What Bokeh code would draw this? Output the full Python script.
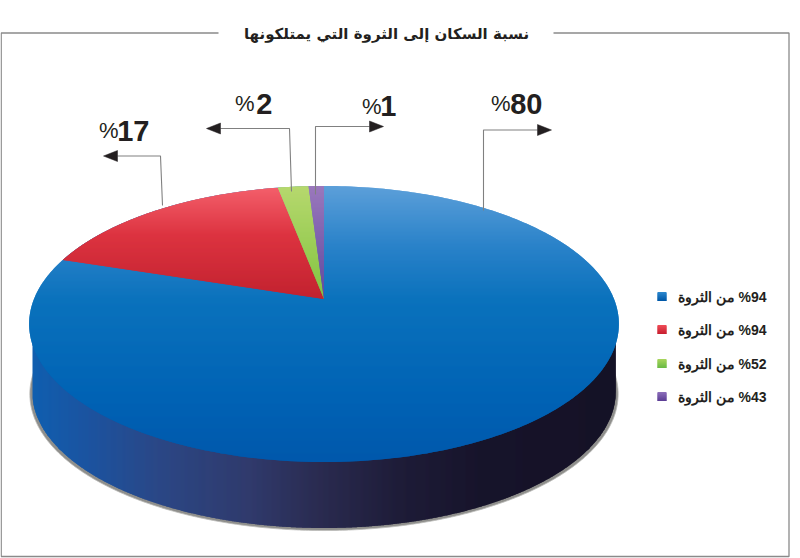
import math
import numpy as np
from bokeh.plotting import figure
from bokeh.models import Range1d
from bokeh.core.properties import value
from bokeh.embed import file_html
from bokeh.resources import INLINE

# ---- data ----
title_text = "نسبة السكان إلى الثروة التي يمتلكونها"
shares = [80, 17, 2, 1]
share_labels = ["80", "17", "2", "1"]
legend_numbers = ["94", "94", "52", "43"]
legend_suffix = " من الثروة"

# ---- styling / layout ----
W, H = 800, 558
top_ramps = [
    [(186, "#5c9fd9"), (245, "#2a82c9"), (300, "#0a72bc"), (400, "#0062b4"), (462, "#0058ab")],
    [(186, "#f4606c"), (235, "#dc3340"), (298, "#c2222f")],
    [(186, "#b6d86e"), (298, "#82c341")],
    [(186, "#9a78bc"), (298, "#5f4a9f")],
]
side_ramp = [(30, "#0f5fb0"), (90, "#1c539f"), (160, "#2b4785"), (250, "#303a6c"),
             (320, "#2a2b50"), (400, "#1e1c38"), (480, "#17142b"), (620, "#151226")]
legend_ramps = [("#2a86cc", "#0058a8"), ("#ee4a55", "#c82030"),
                ("#a6d45c", "#6cbb45"), ("#8a6cb8", "#5d3f96")]
label_font = "Liberation Sans"
arabic_font = "DejaVu Sans"
ink = "#231f20"
rule = "#8a8a8a"
leader = "#808080"

CX, CY = 323.5, 298.5
K, A, B = 0.181, 133.5, 290.0
DEPTH = 68.0
OVERLAP = 2.0


def hex2rgb(h):
    return tuple(int(h[i:i + 2], 16) for i in (1, 3, 5))


def ramp(stops, t):
    if t <= stops[0][0]:
        return stops[0][1]
    for (a, ca), (b, cb) in zip(stops, stops[1:]):
        if t <= b:
            f = (t - a) / (b - a)
            ra, rb = hex2rgb(ca), hex2rgb(cb)
            return "#%02x%02x%02x" % tuple(round(x + (y - x) * f) for x, y in zip(ra, rb))
    return stops[-1][1]


def project(theta, r=1.0):
    u, v = r * math.sin(theta), r * math.cos(theta)
    w = 1 + K * v
    return CX + B * u / w, CY - A * v / w


def clip_band(poly, y0, y1):
    def clip(pts, inside, cross):
        out = []
        for i, p in enumerate(pts):
            q = pts[(i + 1) % len(pts)]
            if inside(p):
                out.append(p)
            if inside(p) != inside(q):
                out.append(cross(p, q))
        return out

    def at(y):
        return lambda p, q: (p[0] + (q[0] - p[0]) * (y - p[1]) / (q[1] - p[1]), y)

    res = clip(poly, lambda p: p[1] >= y0, at(y0))
    if res:
        res = clip(res, lambda p: p[1] <= y1, at(y1))
    return res


p = figure(width=W, height=H, x_range=Range1d(0, W), y_range=Range1d(H, 0),
           output_backend="svg", toolbar_location=None, min_border=0,
           outline_line_color=None, background_fill_color="white",
           border_fill_color="white")
p.axis.visible = False
p.grid.visible = False

# frame
p.multi_line(xs=[[218, 0.7, 0.7, 788.5, 788.5, 553]], ys=[[32.5, 32.5, 556, 556, 32.5, 32.5]],
             line_color=rule, line_width=1.3)


# ---- extruded side, built from the circle ----
def lower_curve(scale=1.0):
    return [project(math.pi / 2 + math.pi * i / 360, scale) for i in range(-60, 421)]


outer = [(x, y + DEPTH) for x, y in lower_curve(0.99)]
shadow = [(CX + (x - CX) * 1.008, y + 2.5) for x, y in outer]
p.patch([q[0] for q in shadow], [q[1] for q in shadow], fill_color="#8f8f8c", fill_alpha=1.0,
        line_color="#bdbdba", line_width=0.8)

# side face in overlapping pixel columns, painted left to right
ox = np.array([q[0] for q in outer])
oy = np.array([q[1] for q in outer])
i_r, i_l = int(np.argmax(ox)), int(np.argmin(ox))
order = np.argsort(ox[i_r:i_l + 1])
arc_x, arc_y = ox[i_r:i_l + 1][order], oy[i_r:i_l + 1][order]
xs_s, ys_s, cs_s = [], [], []
for x in range(math.ceil(arc_x[0]), math.floor(arc_x[-1])):
    x1 = min(x + OVERLAP, float(arc_x[-1]))
    y0, ym, y1 = np.interp([x, x + 1, x1], arc_x, arc_y)
    xs_s.append([x, x1, x1, x + 1, x])
    ys_s.append([CY + 25, CY + 25, float(y1), float(ym), float(y0)])
    cs_s.append(ramp(side_ramp, x + 0.5))
p.patches(xs_s, ys_s, fill_color=cs_s, fill_alpha=1.0, line_color=None)

# ---- top face: gradient bands; largest share as full disc, the others laid over it ----
total = sum(shares)
pxs, pys, pcs = [], [], []


def add_bands(poly, stops):
    lo = math.floor(min(q[1] for q in poly))
    hi = math.ceil(max(q[1] for q in poly))
    for y in range(lo, hi):
        part = clip_band(poly, y, y + OVERLAP)
        if len(part) >= 3:
            pxs.append([q[0] for q in part])
            pys.append([q[1] for q in part])
            pcs.append(ramp(stops, y + 0.5))


add_bands([project(2 * math.pi * j / 360) for j in range(360)], top_ramps[0])
start = 2 * math.pi * shares[0] / total
for share, stops in zip(shares[1:], top_ramps[1:]):
    sweep = 2 * math.pi * share / total
    add_bands([(CX, CY)] + [project(start + sweep * j / 30) for j in range(31)], stops)
    start += sweep
p.patches(pxs, pys, fill_color=pcs, fill_alpha=1.0, line_color=None)

# ---- leader lines and arrows ----
leaders = [
    ([483, 483, 537], [210, 129.5, 129.5], 1),
    ([162, 160, 117], [205, 155.5, 155.5], -1),
    ([291, 289, 220], [191, 128, 128], -1),
    ([315, 315, 369], [194, 126, 126], 1),
]
for lx, ly, d in leaders:
    p.line(lx, ly, line_color=leader, line_width=1.1)
    base = lx[-1]
    tip = base + d * 14
    p.patch([base, tip, base], [ly[-1] - 5.5, ly[-1], ly[-1] + 5.5], fill_color=ink, fill_alpha=1.0,
            line_color=ink, line_width=0.5)

# ---- value labels ----
num_anchor = [(542, 103), (149, 130), (272, 103), (396, 105.5)]
pct_anchor = [(510, 103), (118, 130), (254, 103), (381, 105.5)]
for s, (nx, ny), (px_, py_) in zip(share_labels, num_anchor, pct_anchor):
    p.text([nx], [ny], text=[s], text_font=value(label_font), text_font_style="bold",
           text_font_size="29px", text_color=ink, text_align="right", text_baseline="middle")
    p.text([px_], [py_], text=["%"], text_font=value(label_font), text_font_style="normal",
           text_font_size="22px", text_color=ink, text_align="right", text_baseline="middle")

# ---- title ----
p.text([386], [33], text=[title_text], text_font=value(arabic_font), text_font_style="bold",
       text_font_size="15px", text_color=ink, text_align="center", text_baseline="middle")

# ---- legend ----
leg_y = [296, 329, 363, 396]
for num, y, (c0, c1) in zip(legend_numbers, leg_y, legend_ramps):
    steps = 9
    p.quad(left=[657] * steps, right=[666] * steps,
           top=[y - 4.5 + i for i in range(steps)],
           bottom=[y - 4.5 + min(i + OVERLAP, steps) for i in range(steps)],
           fill_color=[ramp([(0, c0), (steps - 1, c1)], i) for i in range(steps)],
           fill_alpha=1.0, line_color=None)
    p.text([766], [y], text=["\u200f%" + num + legend_suffix], text_font=value(label_font),
           text_font_style="bold", text_font_size="14px", text_color=ink,
           text_align="right", text_baseline="middle")

open("out.html", "w").write(file_html(p, INLINE))
